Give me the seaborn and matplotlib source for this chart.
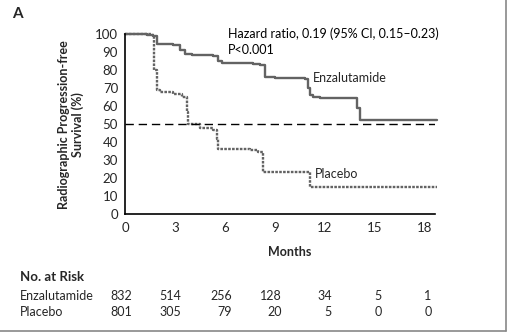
import matplotlib
matplotlib.use("Agg")
import matplotlib.pyplot as plt
import matplotlib.transforms as mtransforms
import seaborn as sns
import pandas as pd

# ---- data ----
enz_months = [0, 1.3, 1.7, 1.9, 2.9, 3.3, 3.6, 4.0, 5.3, 5.6, 5.8, 7.7, 8.1, 8.4,
              9.0, 10.8, 11.0, 11.1, 11.3, 11.7, 13.9, 14.1, 18.7]
enz_surv = [100, 99.5, 99, 94.5, 94, 91, 89, 88.5, 88, 85, 84.3, 83.5, 83, 76.5,
            75.5, 75, 70, 66.3, 65.3, 64.4, 58.8, 52.3, 52.3]
plc_months = [0, 1.6, 1.75, 1.9, 2.1, 2.9, 3.4, 3.7, 3.8, 4.5, 5.3, 5.5, 5.6, 7.5,
              8.0, 8.3, 11.0, 11.1, 18.7]
plc_surv = [100, 99.5, 80, 69, 68, 67, 65, 57, 50, 48, 47, 42, 36, 35.5,
            34.7, 23.5, 23.3, 15, 15]
xticks = [0, 3, 6, 9, 12, 15, 18]
yticks = [0, 10, 20, 30, 40, 50, 60, 70, 80, 90, 100]
risk_times = [0, 3, 6, 9, 12, 15, 18]
risk_enz = [832, 514, 256, 128, 34, 5, 1]
risk_plc = [801, 305, 79, 20, 5, 0, 0]
groups = ["Enzalutamide", "Placebo"]

sns.set_theme(style="white")
plt.rcParams['font.family'] = ['Lato', 'DejaVu Sans']

W, H = 509, 334
fig = plt.figure(figsize=(W / 100, H / 100), dpi=100)
ax = fig.add_axes([125 / W, 1 - 214 / H, (435 - 125) / W, (214 - 34.3) / H])

df_e = pd.DataFrame({"m": enz_months, "s": enz_surv})
df_p = pd.DataFrame({"m": plc_months, "s": plc_surv})
grey = "#636363"
sns.lineplot(data=df_e, x="m", y="s", ax=ax, estimator=None, sort=False,
             drawstyle="steps-post", color=grey, linewidth=1.7, clip_on=False)
sns.lineplot(data=df_p, x="m", y="s", ax=ax, estimator=None, sort=False,
             drawstyle="steps-post", color=grey, linewidth=1.7,
             linestyle=(0, (1.1, 0.55)), clip_on=False)
ax.axhline(50, xmin=0, xmax=1, color="black", linewidth=1.0,
           linestyle=(0, (6, 3.5)))

ax.set_xlim(0, 18.6)
ax.set_ylim(0, 100)
ax.set_xticks(xticks)
ax.set_yticks(yticks)
ax.tick_params(axis="both", direction="out", length=4, width=1, color="black",
               labelsize=9.5, pad=1)
ax.tick_params(axis="x", pad=2)
for sp in ["top", "right"]:
    ax.spines[sp].set_visible(False)
for sp in ["left", "bottom"]:
    ax.spines[sp].set_color("black")
    ax.spines[sp].set_linewidth(1.2)
ax.set_xlabel("")
ax.set_ylabel("")

# annotations
ax.text(6.2, 100.5, "Hazard ratio, 0.19 (95% CI, 0.15\u20130.23)", fontsize=9,
        va="center", ha="left", color="black")
ax.text(6.2, 91.3, "P<0.001", fontsize=9, va="center", ha="left", color="black")
ax.text(11.3, 75.5, groups[0], fontsize=9, va="center", ha="left")
ax.text(11.4, 22.0, groups[1], fontsize=9, va="center", ha="left")

fig.text(12 / W, 1 - 14 / H, "A", fontsize=11, fontweight="bold",
         va="center", ha="left")
fig.text(71 / W, 1 - 125 / H, "Radiographic Progression-free\nSurvival (%)",
         rotation=90, fontsize=9, fontweight="bold", va="center", ha="center",
         linespacing=1.2)
fig.text(290 / W, 1 - 252 / H, "Months", fontsize=9, fontweight="bold",
         va="center", ha="center")

fig.text(20 / W, 1 - 277 / H, "No. at Risk", fontsize=9.5, fontweight="bold",
         va="center", ha="left")
fig.text(20 / W, 1 - 296 / H, groups[0], fontsize=9, va="center", ha="left")
fig.text(20 / W, 1 - 312 / H, groups[1], fontsize=9, va="center", ha="left")
trans = mtransforms.blended_transform_factory(ax.transData, fig.transFigure)
for t, e, p in zip(risk_times, risk_enz, risk_plc):
    ax.text(t + 0.4, 1 - 296 / H, str(e), transform=trans, fontsize=9,
            va="center", ha="right", clip_on=False)
    ax.text(t + 0.4, 1 - 312 / H, str(p), transform=trans, fontsize=9,
            va="center", ha="right", clip_on=False)

# frame lines (right & bottom)
fig.add_artist(plt.Line2D([506 / W, 506 / W], [1 - 331 / H, 1], color="#888888",
                          linewidth=1.2, transform=fig.transFigure))
fig.add_artist(plt.Line2D([0, 506 / W], [1 - 331 / H, 1 - 331 / H],
                          color="#888888", linewidth=1.2,
                          transform=fig.transFigure))

fig.savefig("out.png", dpi=100)
